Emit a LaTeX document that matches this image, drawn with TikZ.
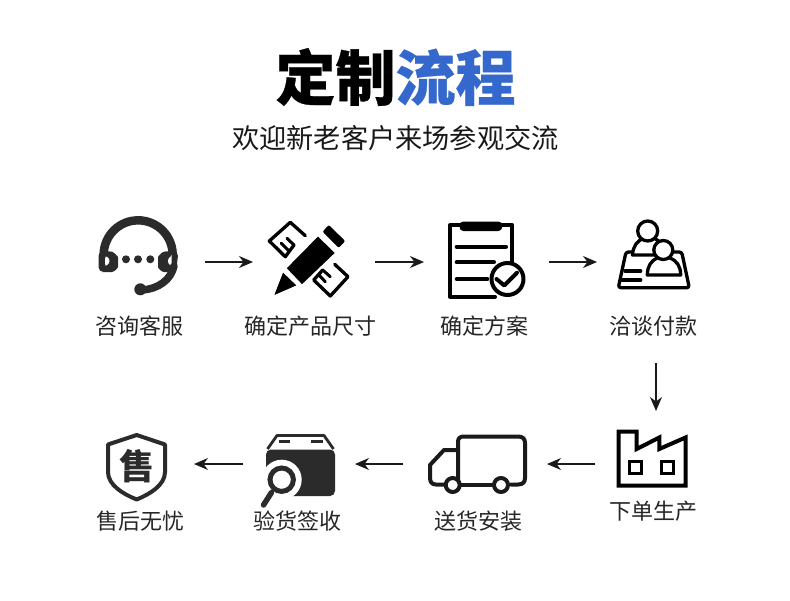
\documentclass[tikz,border=0pt]{standalone}
\usepackage{fontspec}
\usetikzlibrary{arrows.meta}
\newfontfamily\cjk[BoldFeatures={FakeBold=0.5}]{Noto Sans CJK SC}
\newfontfamily\cjkplain{Noto Sans CJK SC}
\definecolor{ink}{HTML}{1A1A1A}
\definecolor{titleblue}{HTML}{3468CC}
\definecolor{boxink}{HTML}{2B2B2B}
\tikzset{
  iconbox/.style={inner sep=0pt,outer sep=0pt,minimum width=#1},
  steplabel/.style={font=\fontsize{22}{26}\selectfont\cjk,text=black!85,inner sep=0pt},
  flow/.style={draw=ink,line width=1.3pt,-{Stealth[length=14pt,width=12pt,inset=4.5pt]}},
  glyph/.style={draw=black,line width=4pt,line join=round,line cap=round},
  thin glyph/.style={draw=black,line width=3.3pt,line join=round,line cap=round},
  pencil part/.style={fill=black,draw=white,line width=1.6pt}
}
\begin{document}
\begin{tikzpicture}[x=1pt,y=-1pt]
\useasboundingbox[fill=white] (0,0) rectangle (790,600);
% titles
\node[inner sep=0pt,font=\fontsize{60}{66}\selectfont\cjk\bfseries] (title) at (395.5,77) {定制\textcolor{titleblue}{流程}};
\node[inner sep=0pt,font=\fontsize{27.2}{32}\selectfont\cjkplain,text=black!90] (subtitle) at (395.5,138) {欢迎新老客户来场参观交流};
% invisible icon frames carrying the connector ends
\node[iconbox=130pt,minimum height=90pt] (i1) at (140,262) {};
\node[iconbox=122pt,minimum height=90pt] (i2) at (314,262) {};
\node[iconbox=125pt,minimum height=90pt] (i3) at (486.5,262) {};
\node[iconbox=118pt,minimum height=202pt] (i4) at (656,262) {};
\node[iconbox=122pt,minimum height=106pt] (i5) at (656,464) {};
\node[iconbox=144pt,minimum height=90pt] (i6) at (475,464) {};
\node[iconbox=112pt,minimum height=90pt] (i7) at (299,464) {};
\node[iconbox=114pt,minimum height=90pt] (i8) at (137,464) {};
% labels
\node[steplabel] (l1) at (139.5,326) {咨询客服};
\node[steplabel] (l2) at (310,326) {确定产品尺寸};
\node[steplabel] (l3) at (484,326) {确定方案};
\node[steplabel] (l4) at (653,326) {洽谈付款};
\node[steplabel] (l5) at (653,511) {下单生产};
\node[steplabel] (l6) at (478,521) {送货安装};
\node[steplabel] (l7) at (297,521) {验货签收};
\node[steplabel] (l8) at (140,521) {售后无忧};
% connectors
\draw[flow] (i1.east) -- (i2.west);
\draw[flow] (i2.east) -- (i3.west);
\draw[flow] (i3.east) -- (i4.west);
\draw[flow] (i4.south) -- (i5.north);
\draw[flow] (i5.west) -- (i6.east);
\draw[flow] (i6.west) -- (i7.east);
\draw[flow] (i7.west) -- (i8.east);
% --- headset
\draw[boxink,line width=8.5pt] (104.2,260.8) arc[start angle=170,end angle=370,radius=34.5];
\fill[boxink,rounded corners=5pt] (98.5,251) -- (107,251) .. controls (114,252) and (118,257) .. (118,262) .. controls (118,268) and (114,272) .. (107,272) -- (98.5,272) -- cycle;
\fill[white,rounded corners=1.5pt] (105,256.5) -- (106.5,256.5) .. controls (110,259) and (110,263) .. (106.5,265.5) -- (105,265.5) -- cycle;
\fill[boxink,rounded corners=5pt] (178.5,251) -- (169,251) .. controls (161.5,252) and (158,257) .. (158,262) .. controls (158,268) and (161.5,272) .. (169,272) -- (176,272) -- cycle;
\fill[white,rounded corners=1pt] (171.5,256) -- (171.5,266) .. controls (167,263) and (167,259) .. (171.5,256) -- cycle;
\draw[boxink,line width=7.5pt,line cap=round] (174,266) .. controls (171,280) and (158,289) .. (142,290);
\fill[boxink] (140.3,289.3) circle[radius=6];
\foreach \dotx in {126,138,150.3} \fill[boxink] (\dotx,259.3) circle[radius=4];
% --- rulers behind the pencil
\draw[thin glyph] (305.3,235.7) -- (290.3,222.3) -- (269.3,241) -- (285.3,256.7) -- (294,245);
\draw[thin glyph,line width=3pt] (281.3,243.3) -- (288,250) (287,238.3) -- (294,245);
\draw[thin glyph] (334.7,264.3) -- (348,276.7) -- (330.3,296) -- (313.7,280) -- (322.7,270);
\draw[thin glyph,line width=3pt] (318.7,275) -- (325.3,281.7) (322.7,270) -- (330.3,276.7);
% --- pencil
\path[pencil part] (272.7,296.7) -- (282.7,271) -- (298,285.7) -- cycle;
\path[pencil part] (285.5,268.2) -- (318,235.2) -- (336,253) -- (302,285.5) -- cycle;
\path[pencil part,rounded corners=2.5pt] (321.3,231.7) -- (328.7,223.5) -- (346.5,241) -- (338.7,249.3) -- cycle;
% --- clipboard
\draw[glyph] (495,296.7) -- (450,296.7) -- (450,225) -- (512.3,225) -- (512.3,262);
\draw[black,fill=black,line width=1pt,rounded corners=3.5pt] (460,222) rectangle (501.7,230.5);
\draw[glyph] (456.7,246.7) -- (506,246.7);
\draw[glyph] (456.7,262.3) -- (494,262.3);
\draw[glyph] (456.7,279) -- (487.3,279);
\draw[glyph,fill=white] (507.5,279) circle[radius=16];
\draw[glyph] (496.5,279) -- (504.3,285.5) -- (517,272.7);
% --- people
\draw[thin glyph,fill=white,rounded corners=2.5pt] (634,252) -- (626,252) -- (618.3,287.7) -- (689.3,287.7) -- (681.7,252) -- (672,252);
\draw[thin glyph] (625,271) -- (640.7,271) (621.7,280) -- (640.7,280);
\draw[thin glyph,fill=white] (632.5,255) .. controls (633,246) and (637,241) .. (644,238) -- (654,238) .. controls (660,241) and (664,246) .. (664,255) -- cycle;
\draw[thin glyph,fill=white] (647.7,231) circle[radius=10];
\draw[thin glyph,fill=white] (647.3,275) .. controls (647.5,266) and (651,261) .. (657,258) -- (670,258) .. controls (677,261) and (680.5,266) .. (680.7,275) -- cycle;
\draw[thin glyph,fill=white] (663.3,250) circle[radius=9.5];
% --- factory
\draw[glyph,line join=miter] (618.5,431.5) -- (636.7,431.5) -- (636.7,449) -- (659.3,437.5) -- (659.3,449) -- (685.5,437.5) -- (685.5,485.5) -- (618.5,485.5) -- cycle;
\draw[thin glyph,line width=3pt,line join=miter] (629.5,461.5) rectangle (641.2,473.5);
\draw[thin glyph,line width=3pt,line join=miter] (661.5,461.5) rectangle (673.5,473.5);
% --- truck
\draw[glyph,draw=ink] (458,483) -- (458,442) .. controls (458,438) and (460,436.5) .. (464,436.5) -- (518,436.5) .. controls (523,436.5) and (525,439) .. (525,443) -- (525,478) .. controls (525,482) and (523,484.5) .. (518,484.5) -- (511,484.5);
\draw[glyph,draw=ink] (458,450) -- (444,450) -- (430,465) -- (430,478) .. controls (430,482) and (432,484.5) .. (436,484.5) -- (444,484.5);
\draw[glyph,draw=ink] (461,484.5) -- (492,484.5);
\draw[glyph,draw=ink,fill=white] (452.7,485) circle[radius=7];
\draw[glyph,draw=ink,fill=white] (501,485) circle[radius=7];
% --- box with magnifier
\fill[boxink,rounded corners=5pt] (266,449.5) -- (335,449.5) -- (335,496) -- (266,496) -- cycle;
\draw[boxink,line width=2.8pt,line join=round] (267.5,449) -- (277,435.5) -- (324,435.5) -- (333.5,449);
\draw[boxink,line width=2.5pt] (278.5,441.5) -- (290,441.5) (311,441.5) -- (323,441.5);
\fill[white] (281.7,479.7) circle[radius=20];
\draw[boxink,line width=5pt] (281.7,479.7) circle[radius=11.7];
\draw[boxink,line width=5.5pt,line cap=round] (271.5,492.5) -- (263.5,505);
% --- shield
\draw[draw=boxink,line width=4pt,line join=round] (136.7,435) -- (165,444.5) -- (165,472) .. controls (165,485) and (150,494) .. (136.7,499.5) .. controls (123,494) and (108,485) .. (108,472) -- (108,444.5) -- cycle;
\node[inner sep=0pt,font=\fontsize{35}{37}\selectfont\cjkplain\bfseries,text=boxink] (shieldchar) at (136.7,466) {售};
\end{tikzpicture}
\end{document}
